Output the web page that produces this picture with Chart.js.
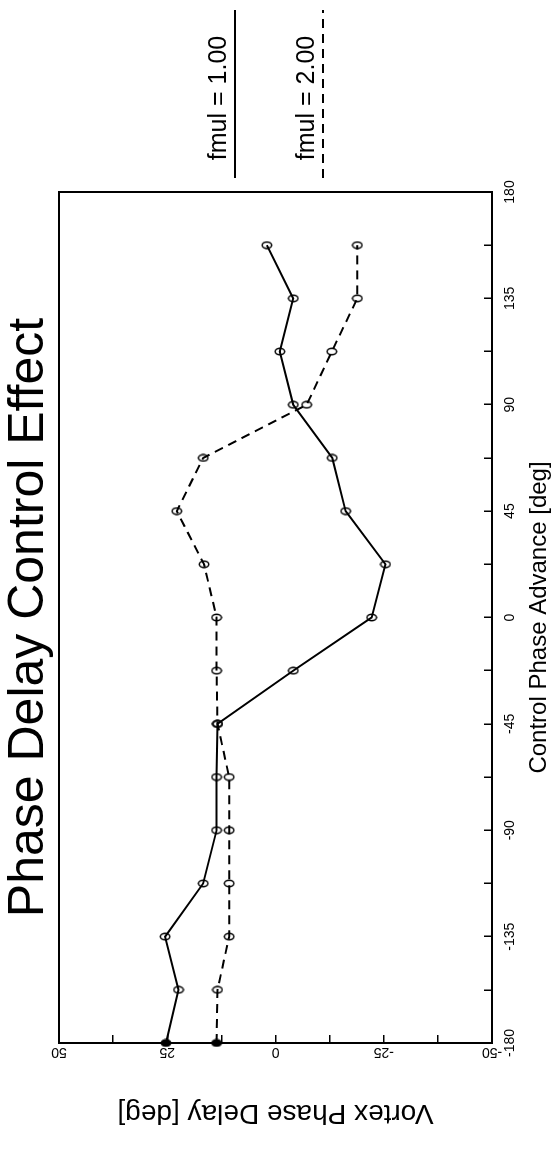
<!DOCTYPE html>
<html lang="en">
<head>
  <meta charset="UTF-8">
  <title>Phase Delay Control Effect</title>
  <style>
    html, body { margin: 0; padding: 0; background: #fff; overflow: hidden; }
    body { width: 557px; height: 1153px; position: relative; }
    /* the chart is drawn landscape, then turned a quarter turn to the left */
    #wrap {
      position: absolute; left: 0; top: 0;
      width: 1153px; height: 557px;
      transform-origin: 0 0;
      transform: translateY(1153px) rotate(-90deg);
    }
  </style>
</head>
<body>
<div id="wrap">
  <canvas id="grafico" width="1153" height="557"></canvas>
</div>

<script src="https://cdn.jsdelivr.net/npm/chart.js"></script>
<script>
  // Control phase advance [deg]
  const phaseAdvance = [-180, -157.5, -135, -112.5, -90, -67.5, -45, -22.5, 0, 22.5, 45, 67.5, 90, 112.5, 135, 157.5];
  // Vortex phase delay [deg]
  const delayFmul1 = [25.3, 22.4, 25.5, 16.7, 13.6, 13.6, 13.4, -4.1, -22.2, -25.4, -16.2, -13.1, -4.1, -1.0, -4.1, 2.0];
  const delayFmul2 = [13.6, 13.4, 10.7, 10.7, 10.7, 10.7, 13.4, 13.6, 13.6, 16.5, 22.8, 16.7, -7.2, -13.0, -18.9, -18.9];
  const seriesLabels = ['fmul = 1.00', 'fmul = 2.00'];
  const xLabelStep = 45;
  const yLabelStep = 25;

  const FONT = '"Liberation Sans", Arial, Helvetica, sans-serif';
  Chart.defaults.font.family = FONT;
  Chart.defaults.color = '#000';

  // open ellipse marker (filled for the first sample)
  function marcador(relleno) {
    const c = document.createElement('canvas');
    c.width = 9; c.height = 12;
    const g = c.getContext('2d');
    g.beginPath();
    g.ellipse(4.5, 6, 3.2, 4.7, 0, 0, Math.PI * 2);
    g.lineWidth = 1.6;
    g.strokeStyle = '#000';
    if (relleno) { g.fillStyle = '#000'; g.fill(); }
    g.stroke();
    return c;
  }
  const abierto = marcador(false);
  const lleno = marcador(true);
  const estilos = phaseAdvance.map((v, i) => i === 0 ? lleno : abierto);

  const puntos = vals => phaseAdvance.map((x, i) => ({ x: x, y: vals[i] }));

  // box round the plot area
  const marco = {
    id: 'marco',
    afterDraw(chart) {
      const { ctx, chartArea: a } = chart;
      ctx.save();
      ctx.strokeStyle = '#000';
      ctx.lineWidth = 2;
      ctx.strokeRect(a.left, a.top, a.right - a.left, a.bottom - a.top);
      ctx.restore();
    }
  };

  // legend: label over a long line sample, right of the plot
  const leyenda = {
    id: 'leyenda',
    afterDraw(chart) {
      const { ctx, chartArea: a } = chart;
      ctx.save();
      ctx.font = '25px ' + FONT;
      ctx.textAlign = 'center';
      ctx.textBaseline = 'alphabetic';
      chart.data.datasets.forEach((ds, i) => {
        const y = a.top + 176 + i * 88;
        const x1 = a.right + 14, x2 = a.right + 182;
        ctx.strokeStyle = '#000';
        ctx.lineWidth = 2;
        ctx.setLineDash(ds.borderDash || []);
        ctx.beginPath();
        ctx.moveTo(x1, y);
        ctx.lineTo(x2, y);
        ctx.stroke();
        ctx.fillStyle = '#000';
        ctx.fillText(ds.label, (x1 + x2) / 2 - 4, y - 9);
      });
      ctx.restore();
    }
  };

  new Chart(document.getElementById('grafico'), {
    type: 'line',
    data: {
      datasets: [{
        label: seriesLabels[0],
        data: puntos(delayFmul1),
        borderColor: '#000',
        borderWidth: 2,
        pointStyle: estilos,
        pointRadius: 5,
        clip: false,
        tension: 0
      }, {
        label: seriesLabels[1],
        data: puntos(delayFmul2),
        borderColor: '#000',
        borderWidth: 2,
        borderDash: [9, 6],
        pointStyle: estilos,
        pointRadius: 5,
        clip: false,
        tension: 0
      }]
    },
    options: {
      responsive: false,
      animation: false,
      devicePixelRatio: 1,
      layout: { padding: { left: 0, right: 192, top: 0, bottom: 0 } },
      plugins: {
        legend: { display: false },
        tooltip: { enabled: false },
        title: {
          display: true,
          text: 'Phase Delay Control Effect',
          fullSize: false,
          font: { size: 50, weight: 'normal', lineHeight: 1.15 },
          padding: { top: 0, bottom: 1.5 }
        }
      },
      scales: {
        x: {
          type: 'linear',
          position: 'bottom',
          min: -180,
          max: 180,
          afterFit(s) { s.height = 65; },
          border: { display: true, color: '#000', width: 2 },
          grid: { drawOnChartArea: false, tickLength: -8, color: '#000', lineWidth: 1.5 },
          ticks: {
            stepSize: 22.5,
            autoSkip: false,
            maxRotation: 0,
            padding: 18,
            font: { size: 14 },
            callback: v => (v % xLabelStep === 0 ? String(v) : '')
          },
          title: {
            display: true,
            text: 'Control Phase Advance [deg]',
            font: { size: 24 },
            padding: { top: 0, bottom: 3 }
          }
        },
        y: {
          type: 'linear',
          position: 'left',
          min: -50,
          max: 50,
          afterFit(s) { s.width = 110; },
          border: { display: true, color: '#000', width: 2 },
          grid: { drawOnChartArea: false, tickLength: -8, color: '#000', lineWidth: 1.5 },
          ticks: {
            stepSize: 12.5,
            autoSkip: false,
            minRotation: 90,
            maxRotation: 90,
            crossAlign: 'center',
            padding: 7,
            font: { size: 14 },
            callback: v => (v % yLabelStep === 0 ? String(v) : '')
          },
          title: {
            display: true,
            text: 'Vortex Phase Delay [deg]',
            font: { size: 28 },
            padding: { top: 23, bottom: 0 }
          }
        }
      }
    },
    plugins: [marco, leyenda]
  });
</script>
</body>
</html>
